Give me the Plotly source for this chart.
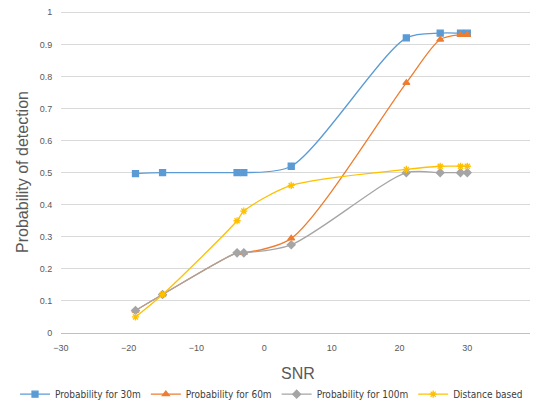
import plotly.graph_objects as go

snr = [-19, -15, -4, -3, 4, 21, 26, 29, 30]
p30 = [0.497, 0.50, 0.50, 0.50, 0.52, 0.92, 0.935, 0.935, 0.935]
p60 = [0.07, 0.12, 0.25, 0.25, 0.295, 0.78, 0.915, 0.93, 0.93]
p100 = [0.07, 0.12, 0.25, 0.25, 0.275, 0.50, 0.50, 0.50, 0.50]
dist = [0.05, 0.12, 0.35, 0.38, 0.46, 0.51, 0.52, 0.52, 0.52]

names = ["Probability for 30m", "Probability for 60m", "Probability for 100m", "Distance based"]
colors = ["#5b9bd5", "#ed7d31", "#a5a5a5", "#ffc000"]
symbols = ["square", "triangle-up", "diamond", "asterisk-open"]

fig = go.Figure()
for name, ys, c, s in zip(names, [p30, p60, p100, dist], colors, symbols):
    fig.add_trace(go.Scatter(
        x=snr, y=ys, name=name, mode="lines+markers",
        line=dict(color=c, width=1.3, shape="spline", smoothing=0.8),
        marker=dict(symbol=s, size=6, color=c, line=dict(color=c, width=1.3)),
    ))

# page body has an 8px default margin, so the figure is 8px smaller
fig.update_layout(
    width=530, height=398,
    margin=dict(l=53, r=3, t=3, b=73, autoexpand=False),
    paper_bgcolor="white", plot_bgcolor="white",
    font=dict(family="Liberation Sans", color="#595959", size=9),
    showlegend=True,
    legend=dict(orientation="h", x=-0.097, xanchor="left", y=-0.145, yanchor="top",
                font=dict(family="DejaVu Sans Condensed", size=10, color="#404040"),
                itemwidth=30, tracegroupgap=0),
    xaxis=dict(range=[-30, 40], dtick=10, showgrid=False, zeroline=False,
               showline=False, ticks="outside", ticklen=6, tickcolor="rgba(0,0,0,0)",
               tickfont=dict(size=9),
               title=dict(text="SNR", font=dict(size=16, color="#595959"), standoff=16)),
    yaxis=dict(range=[0, 1.004], dtick=0.1, showgrid=True, gridcolor="#d9d9d9", gridwidth=1,
               zeroline=True, zerolinecolor="#bfbfbf", zerolinewidth=1,
               showline=False, ticks="outside", ticklen=6, tickcolor="rgba(0,0,0,0)",
               tickfont=dict(size=9), tickformat="~g", ticklabeloverflow="allow",
               title=dict(text="Probability of detection", font=dict(size=16, color="#595959"), standoff=7)),
)

fig.write_html("out.html")
